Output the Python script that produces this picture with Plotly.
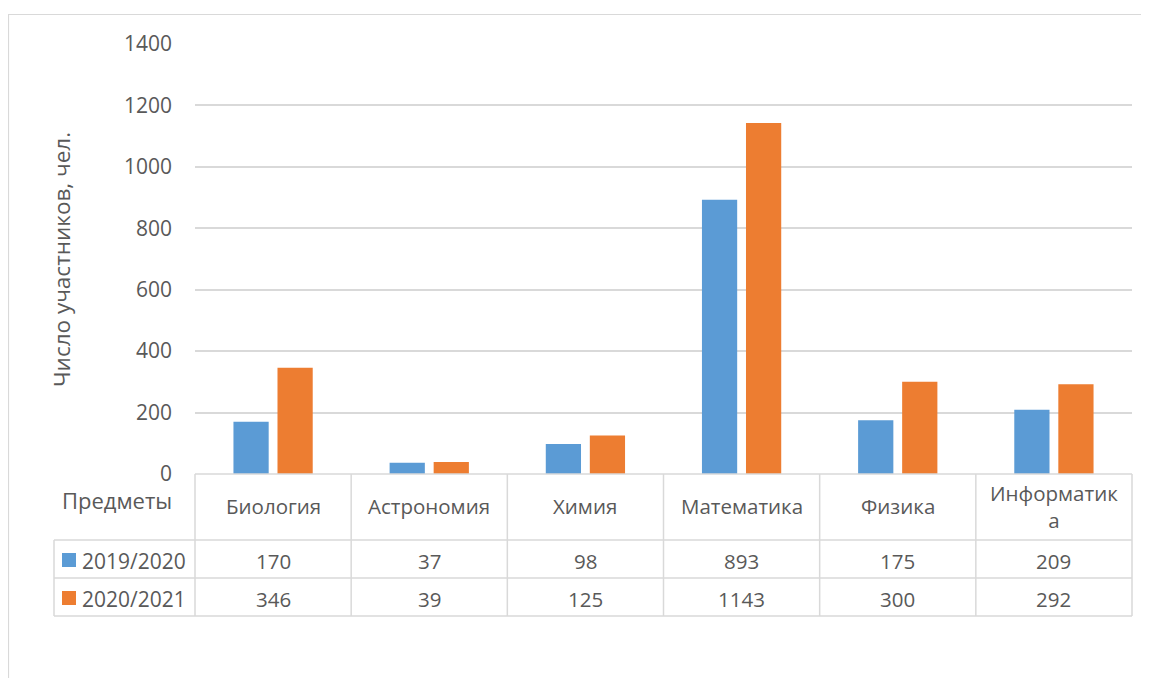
import plotly.graph_objects as go

categories = ["Биология", "Астрономия", "Химия", "Математика", "Физика", "Информатика"]
header_labels = ["Биология", "Астрономия", "Химия", "Математика", "Физика", "Информатик<br>а"]
series_names = ["2019/2020", "2020/2021"]
values_2019 = [170, 37, 98, 893, 175, 209]
values_2020 = [346, 39, 125, 1143, 300, 292]
y_ticks = [0, 200, 400, 600, 800, 1000, 1200, 1400]

colors = ["#5B9BD5", "#ED7D31"]
grid = "#D9D9D9"
txt = "#595959"
FONT = "Open Sans"

OFF = 8  # page body margin
W, H = 1149 - OFF, 678 - OFF
# plot area in screen pixels
L, R, T, B = 195, 1132, 44, 474


def px(x):
    return (x - L) / (R - L)


def py(y):
    return (B - y) / (B - T)


idx = list(range(len(categories)))
fig = go.Figure()
for name, vals, c in zip(series_names, [values_2019, values_2020], colors):
    fig.add_trace(go.Bar(x=idx, y=vals, name=name, marker=dict(color=c, line=dict(width=0)),
                         showlegend=False, hoverinfo="y"))

shapes = []
annotations = []
line = dict(color=grid, width=1.5)
n = len(categories)
shapes.append(dict(type="line", xref="paper", yref="paper", x0=px(L), x1=px(R), y0=py(474), y1=py(474), line=line))
for yy in [540, 578, 616]:
    shapes.append(dict(type="line", xref="paper", yref="paper", x0=px(54), x1=px(R), y0=py(yy), y1=py(yy), line=line))
for k in range(n + 1):
    xp = k / n
    shapes.append(dict(type="line", xref="paper", yref="paper", x0=xp, x1=xp, y0=py(474), y1=py(616), line=line))
shapes.append(dict(type="line", xref="paper", yref="paper", x0=px(54), x1=px(54), y0=py(540), y1=py(616), line=line))
# chart frame
shapes.append(dict(type="rect", xref="paper", yref="paper", x0=px(8.5), x1=px(1170), y0=py(14.5), y1=py(700),
                   line=dict(color="#D9D9D9", width=1.2), layer="below"))

fnt = dict(family=FONT, size=20.5, color=txt)
for i, lab in enumerate(header_labels):
    annotations.append(dict(x=i, xref="x", y=py(506), yref="paper", text=lab, showarrow=False,
                            font=fnt, xanchor="center", yanchor="middle"))
for i in idx:
    annotations.append(dict(x=i, xref="x", y=py(561), yref="paper", text=str(values_2019[i]), showarrow=False,
                            font=fnt, xanchor="center", yanchor="middle"))
    annotations.append(dict(x=i, xref="x", y=py(599), yref="paper", text=str(values_2020[i]), showarrow=False,
                            font=fnt, xanchor="center", yanchor="middle"))
annotations.append(dict(x=px(60), xref="paper", y=py(500), yref="paper", text="Предметы", showarrow=False,
                        font=dict(family=FONT, size=22, color=txt), xanchor="left", yanchor="middle"))
for name, c, yy in zip(series_names, colors, [560, 598]):
    shapes.append(dict(type="rect", xref="paper", yref="paper", x0=px(62), x1=px(76), y0=py(yy - 7), y1=py(yy + 7),
                       fillcolor=c, line=dict(width=0)))
    annotations.append(dict(x=px(80), xref="paper", y=py(yy + 1), yref="paper", text=name, showarrow=False,
                            font=dict(family=FONT, size=21, color=txt), xanchor="left", yanchor="middle"))
annotations.append(dict(x=px(61), xref="paper", y=py(260), yref="paper", text="Число участников, чел.",
                        showarrow=False, textangle=-90, font=dict(family=FONT, size=22.5, color=txt),
                        xanchor="center", yanchor="middle"))

fig.update_layout(
    width=W, height=H,
    margin=dict(l=L - OFF, r=W - (R - OFF), t=T - OFF, b=H - (B - OFF)),
    paper_bgcolor="white", plot_bgcolor="white",
    barmode="group", bargap=0.436, bargroupgap=0.2,
    xaxis=dict(range=[-0.5, n - 0.5], showticklabels=False, showgrid=False, zeroline=False,
               ticks="", fixedrange=True),
    yaxis=dict(range=[0, 1400], tickvals=y_ticks, showgrid=True, gridcolor=grid, gridwidth=1.5,
               zeroline=False, ticks="", ticklabelstandoff=22,
               tickfont=dict(family=FONT, size=21, color=txt)),
    shapes=shapes, annotations=annotations,
    font=dict(family=FONT, color=txt),
)

fig.write_html("out.html")
